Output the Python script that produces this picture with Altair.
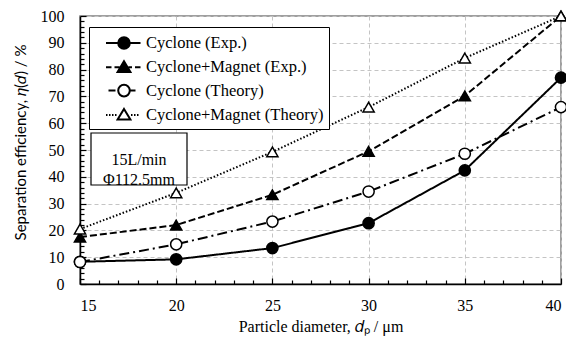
import altair as alt
import pandas as pd

# ---------------- data ----------------
x_um = [15, 20, 25, 30, 35, 40]
series_names = [
    "Cyclone (Exp.)",
    "Cyclone+Magnet (Exp.)",
    "Cyclone (Theory)",
    "Cyclone+Magnet (Theory)",
]
cyc_exp = [8.3, 9.2, 13.4, 22.7, 42.4, 77.0]
cm_exp = [17.5, 22.0, 33.3, 49.5, 70.2, 100.0]
cyc_th = [8.2, 14.8, 23.3, 34.5, 48.6, 66.0]
cm_th = [20.5, 34.0, 49.3, 66.0, 84.3, 100.0]
x_ticks = [15, 20, 25, 30, 35, 40]
y_ticks = [0, 10, 20, 30, 40, 50, 60, 70, 80, 90, 100]
note_lines = ["15L/min", "Φ112.5mm"]

values = [cyc_exp, cm_exp, cyc_th, cm_th]
rows = []
for name, vals in zip(series_names, values):
    for xv, yv in zip(x_um, vals):
        rows.append({"series": name, "d": xv, "eta": yv})
df = pd.DataFrame(rows)

# ---------------- styles ----------------
SERIF = "Liberation Serif"
SANS = "Lato"
W, H = 481, 268

dash_range = [[1, 0], [7, 3], [10, 4, 2, 4], [1.5, 2]]
shape_range = ["circle", "triangle-up", "circle", "triangle-up"]
fill_range = ["black", "black", "white", "white"]
stroke_range = ["black", "black", "black", "black"]

SH = -0.35  # horizontal shift of legend glyphs (symbol units, 10 px each)


def seg(a, b):
    return f"M{a + SH:.2f},0L{b + SH:.2f},0"


def circ(c, r):
    c = c + SH
    return (f"M{c - r:.2f},0A{r},{r},0,1,0,{c + r:.2f},0"
            f"A{r},{r},0,1,0,{c - r:.2f},0Z")


def tri(c):
    c = c + SH
    return f"M{c:.2f},-0.6L{c + 0.64:.2f},0.46L{c - 0.64:.2f},0.46Z"


C = 2.25  # glyph centre in symbol units
p_solid = seg(0.45, C - 0.58) + seg(C + 0.58, 3.9) + circ(C, 0.58)
p_dash = (seg(0.45, 1.0) + seg(1.3, C - 0.45) + seg(C + 0.45, 3.05)
          + seg(3.35, 3.9) + tri(C))
p_dashdot = seg(0.7, 1.4) + seg(C + 0.58, 3.4) + circ(C, 0.58)
p_dot = "".join(seg(a, a + 0.15) for a in [0.45, 0.75, 1.05, 1.35]) + \
    "".join(seg(a, a + 0.15) for a in [2.95, 3.25, 3.55]) + tri(C)
legend_paths = [p_solid, p_dash, p_dashdot, p_dot]

x_scale = alt.Scale(domain=[15, 40], nice=False, zero=False)
y_scale = alt.Scale(domain=[0, 100], nice=False)

grid_color = "#c4c4c4"

x_axis_main = alt.Axis(
    orient="bottom", values=x_ticks, grid=True, gridDash=[4, 3],
    gridColor=grid_color, gridWidth=1, domainColor="black", domainWidth=1.5,
    ticks=False, labelPadding=13, labelFont=SERIF, labelFontSize=16,
    labelColor="black", title="Particle diameter, 𝑑ₚ / μm",
    titleFont=SERIF, titleFontSize=16, titleFontWeight="normal",
    titleColor="black", titleY=47, titleBaseline="alphabetic",
)
y_axis_main = alt.Axis(
    orient="left", values=y_ticks, grid=True, gridDash=[4, 3],
    gridColor=grid_color, gridWidth=1, domainColor="black", domainWidth=1.5,
    ticks=False, labelPadding=16, labelFont=SERIF, labelFontSize=16,
    labelColor="black", title="Separation efficiency, 𝜂(𝑑) / %",
    titleFont=SANS, titleFontSize=15, titleFontWeight="normal",
    titleColor="black", titleX=-60, titleY=126, titleAngle=270,
    titleBaseline="middle",
)
x_axis_ticks = alt.Axis(
    orient="top", offset=-H, values=list(range(15, 41)), labels=False,
    domain=False, grid=False, ticks=True, tickColor="black", tickWidth=1.2,
    tickSize={"condition": {"test": "datum.value % 5 === 0", "value": 6},
              "value": 4},
    title=None,
)
y_axis_ticks = alt.Axis(
    orient="right", offset=-W, values=list(range(0, 101, 2)), labels=False,
    domain=False, grid=False, ticks=True, tickColor="black", tickWidth=1.2,
    tickSize={"condition": {"test": "datum.value % 10 === 0", "value": 6},
              "value": 4},
    title=None,
)

base = alt.Chart(df)

lines = base.mark_line(color="black", strokeWidth=2).encode(
    x=alt.X("d:Q", scale=x_scale, axis=x_axis_main),
    y=alt.Y("eta:Q", scale=y_scale, axis=y_axis_main),
    strokeDash=alt.StrokeDash("series:N", scale=alt.Scale(
        domain=series_names, range=dash_range), legend=None),
    detail="series:N",
)

points = base.mark_point(filled=True, size=125, stroke="black",
                         strokeWidth=1.5, opacity=1).encode(
    x=alt.X("d:Q", scale=x_scale, axis=x_axis_ticks),
    y=alt.Y("eta:Q", scale=y_scale, axis=y_axis_ticks),
    shape=alt.Shape("series:N", scale=alt.Scale(
        domain=series_names, range=shape_range), legend=None),
    fill=alt.Fill("series:N", scale=alt.Scale(
        domain=series_names, range=fill_range), legend=None),
)

leg_props = dict(
    orient="none", legendX=9, legendY=11, title=None, direction="vertical",
    strokeColor="black", fillColor="white", padding=5, rowPadding=3.3,
    symbolSize=400, symbolStrokeColor="black", symbolStrokeWidth=2,
    symbolOpacity=1, labelFont=SERIF, labelFontSize=16.5,
    labelColor="black", labelOffset=30, labelLimit=0,
)

legend_layer = base.transform_filter("datum.eta < -1").mark_point(
    filled=True, strokeWidth=2, opacity=1).encode(
    shape=alt.Shape("series:N", scale=alt.Scale(
        domain=series_names, range=legend_paths),
        legend=alt.Legend(**leg_props)),
    fill=alt.Fill("series:N", scale=alt.Scale(
        domain=series_names, range=fill_range),
        legend=alt.Legend(**leg_props)),
    stroke=alt.Stroke("series:N", scale=alt.Scale(
        domain=series_names, range=stroke_range),
        legend=alt.Legend(**leg_props)),
)

one = alt.Data(values=[{}])
note_box = alt.Chart(one).mark_rect(
    fill="white", stroke="black", strokeWidth=1.2).encode(
    x=alt.value(11), x2=alt.value(107), y=alt.value(117), y2=alt.value(169))
note_text = alt.Chart(one).mark_text(
    text=note_lines, font=SERIF, fontSize=16, color="black",
    align="center", baseline="middle", lineHeight=20).encode(
    x=alt.value(59), y=alt.value(144))

chart = alt.layer(lines, points, legend_layer, note_box, note_text).resolve_axis(
    x="independent", y="independent"
).resolve_scale(
    shape="independent", fill="independent", stroke="independent"
).resolve_legend(
    shape="independent", fill="independent", stroke="independent"
).properties(
    width=W, height=H,
    autosize=alt.AutoSizeParams(type="none"),
    padding={"left": 72, "top": 8, "right": 5, "bottom": 55},
).configure_view(stroke="#808080", strokeWidth=1.5)

chart.save("out.html", embed_options={"renderer": "svg", "actions": False})
